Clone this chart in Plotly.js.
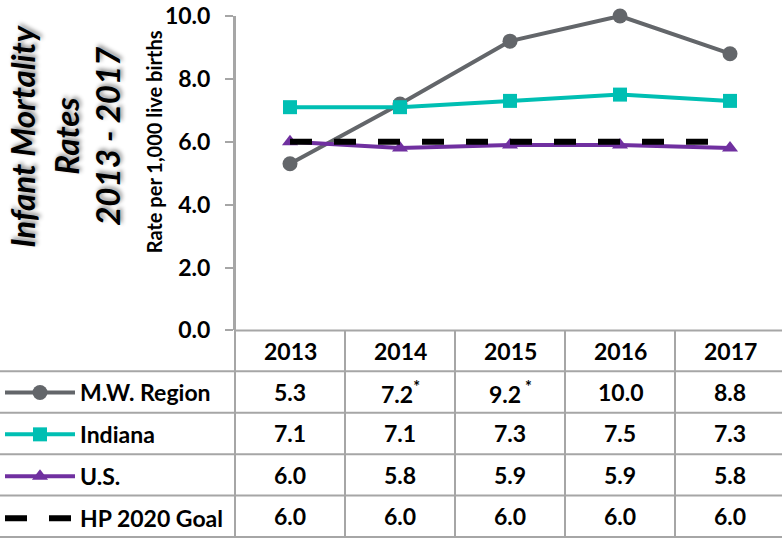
<!DOCTYPE html>
<html>
<head>
<meta charset="utf-8">
<script src="https://cdn.plot.ly/plotly-3.0.1.min.js"></script>
<style>
  html, body { margin: 0; padding: 0; background: #fff; }
  #chart { width: 782px; height: 540px; }
</style>
</head>
<body>
<div id="chart"></div>
<script>
// ---------------- data ----------------
const years = ['2013', '2014', '2015', '2016', '2017'];
const seriesNames = ['M.W. Region', 'Indiana', 'U.S.', 'HP 2020 Goal'];
const mwRegion = [5.3, 7.2, 9.2, 10.0, 8.8];
const indiana = [7.1, 7.1, 7.3, 7.5, 7.3];
const us = [6.0, 5.8, 5.9, 5.9, 5.8];
const hpGoal = [6.0, 6.0, 6.0, 6.0, 6.0];
const mwNotes = ['', '*', ' *', '', ''];   // footnote marks in table
const yTickVals = [0, 2, 4, 6, 8, 10];
const chartTitle = ['Infant Mortality', 'Rates', '2013 - 2017'];
const yTitle = 'Rate per 1,000 live births';

// ---------------- layout geometry (px) ----------------
const W = 782, H = 540;
const M = { l: 235, r: 0, t: 16, b: 0 };
const PW = W - M.l - M.r, PAPER_H = H - M.t - M.b;
const AXIS_Y = 331;                    // pixel row of y = 0
const BAND = 110;                      // px per category
const xRange = [-0.5, -0.5 + PW / BAND];
const HEADER_H = 41, ROW_H = 41.5;
const FONT = 'Lato, "Open Sans", sans-serif';
const GRID = '#a6a6a6';
const TITLE_LINE_X = [22, 66, 107];    // px centres of the rotated title lines

const paperY = px => (H - M.b - px) / PAPER_H;   // absolute px -> paper y
const paperX = px => (px - M.l) / PW;            // absolute px -> paper x

const colors = ['#63666a', '#00bfb3', '#7030a0', '#000000'];
const values = [mwRegion, indiana, us, hpGoal];

// ---------------- traces ----------------
const traces = [
  { x: years, y: mwRegion, name: seriesNames[0], type: 'scatter', mode: 'lines+markers',
    line: { color: colors[0], width: 4 }, marker: { symbol: 'circle', size: 15, color: colors[0] },
    legendgroup: 'a', cliponaxis: false },
  { x: years, y: indiana, name: seriesNames[1], type: 'scatter', mode: 'lines+markers',
    line: { color: colors[1], width: 4 }, marker: { symbol: 'square', size: 14, color: colors[1] },
    legendgroup: 'b', cliponaxis: false },
  { x: years, y: us, name: seriesNames[2], type: 'scatter', mode: 'lines+markers',
    line: { color: colors[2], width: 4 }, marker: { symbol: 'triangle-up', size: 14, color: colors[2] },
    legendgroup: 'c', cliponaxis: false },
  { x: years, y: hpGoal, name: seriesNames[3], type: 'scatter', mode: 'lines',
    line: { color: colors[3], width: 6, dash: '22px,22px' },
    legendgroup: 'd', cliponaxis: false }
];

// ---------------- table (shapes + annotations) ----------------
const shapes = [];
const annotations = [];
const rowTops = [HEADER_H];
for (let r = 0; r < seriesNames.length; r++) rowTops.push(HEADER_H + ROW_H * (r + 1));
const tableBottom = AXIS_Y + rowTops[rowTops.length - 1];

rowTops.forEach(t => shapes.push({ type: 'line', xref: 'paper', yref: 'paper',
  x0: paperX(0), x1: 1, y0: paperY(AXIS_Y + t), y1: paperY(AXIS_Y + t), line: { color: GRID, width: 2 } }));
shapes.push({ type: 'line', xref: 'paper', yref: 'paper', x0: 0, x1: 0, y0: 1, y1: paperY(tableBottom),
  line: { color: GRID, width: 2 } });
shapes.push({ type: 'line', xref: 'paper', yref: 'paper', x0: 0, x1: 1,
  y0: paperY(AXIS_Y), y1: paperY(AXIS_Y), line: { color: GRID, width: 2 } });
for (let i = 0; i < years.length; i++) {
  shapes.push({ type: 'line', xref: 'x', yref: 'paper', x0: i + 0.5, x1: i + 0.5,
    y0: paperY(AXIS_Y), y1: paperY(tableBottom), line: { color: GRID, width: 2 } });
}
const cellFont = { family: FONT, size: 23, color: '#000', weight: 700 };
years.forEach((yr, i) => annotations.push({ xref: 'x', yref: 'paper', x: i,
  y: paperY(AXIS_Y + HEADER_H / 2), xanchor: 'center', yanchor: 'middle',
  text: yr, showarrow: false, font: cellFont }));
values.forEach((arr, r) => {
  const yc = paperY(AXIS_Y + HEADER_H + ROW_H * r + ROW_H / 2);
  arr.forEach((v, i) => {
    let t = v.toFixed(1);
    if (r === 0 && mwNotes[i]) t += '<sup>' + mwNotes[i] + '</sup>';
    annotations.push({ xref: 'x', yref: 'paper', x: i, y: yc, xanchor: 'center', yanchor: 'middle',
      text: t, showarrow: false, font: cellFont });
  });
});

// chart title (rotated, one annotation per line) and y-axis title
chartTitle.forEach((line, k) => annotations.push({ xref: 'paper', yref: 'paper',
  x: paperX(TITLE_LINE_X[k]), y: paperY(137), xanchor: 'center', yanchor: 'middle',
  text: line, textangle: -90, showarrow: false,
  font: { family: FONT, size: 33, color: '#000', weight: 700, style: 'italic',
          shadow: '2px 2px 4px rgba(0,0,0,0.45)' } }));
annotations.push({ xref: 'paper', yref: 'paper', x: paperX(154), y: paperY(142.5),
  xanchor: 'center', yanchor: 'middle',
  text: yTitle, textangle: -90, showarrow: false,
  font: { family: FONT, size: 20, color: '#000', weight: 700 } });

const layout = {
  width: W, height: H,
  margin: M,
  paper_bgcolor: '#fff', plot_bgcolor: '#fff',
  font: { family: FONT, color: '#000' },
  showlegend: true,
  legend: { x: paperX(0), xanchor: 'left', y: paperY(AXIS_Y + HEADER_H), yanchor: 'top',
    itemwidth: 70, tracegroupgap: 9, bgcolor: 'rgba(0,0,0,0)',
    font: { family: FONT, size: 23, color: '#000', weight: 700 } },
  xaxis: { type: 'category', range: xRange, showticklabels: false, ticks: '',
    showgrid: false, zeroline: false, showline: false, fixedrange: true },
  yaxis: { domain: [paperY(AXIS_Y), 1], range: [0, 10], tickvals: yTickVals, tickformat: '.1f',
    ticks: 'outside', ticklen: 8, tickwidth: 2, tickcolor: GRID, showline: true, linecolor: GRID,
    linewidth: 2, showgrid: false, zeroline: false, ticklabelstandoff: 10,
    tickfont: { family: FONT, size: 23, color: '#000', weight: 700 } },
  shapes: shapes,
  annotations: annotations
};

Plotly.newPlot('chart', traces, layout, { displayModeBar: false, staticPlot: true });
</script>
</body>
</html>
